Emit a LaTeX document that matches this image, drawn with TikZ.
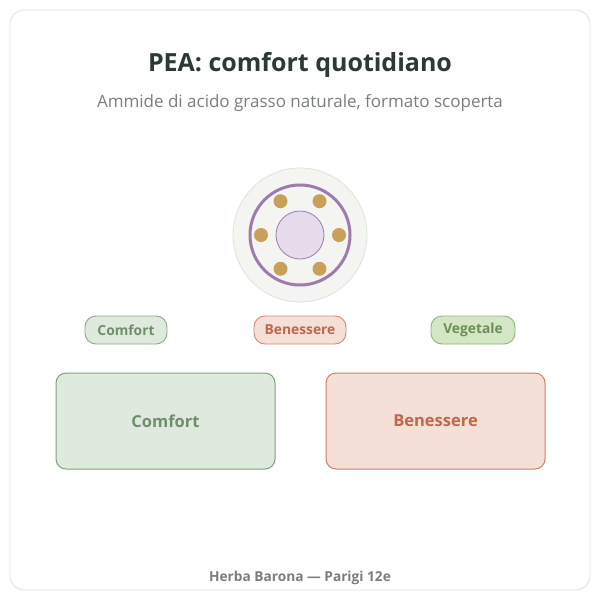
\documentclass[tikz,border=0pt]{standalone}
\usepackage{fontspec}
\setmainfont{Open Sans}
\definecolor{titlec}{HTML}{2D3A33}
\definecolor{subc}{HTML}{7A7F7C}
\definecolor{ring}{HTML}{9B7BB0}
\definecolor{dot}{HTML}{C9A05A}
\begin{document}
\begin{tikzpicture}[x=1pt,y=-1pt,
  pill/.style={draw,line width=0.9pt,rounded corners=11pt,minimum height=28pt,inner sep=0pt,font=\bfseries\fontsize{13.8}{16}\selectfont},
  box/.style={draw,line width=1pt,rounded corners=10pt,minimum width=219pt,minimum height=96pt,font=\bfseries\fontsize{16.5}{19}\selectfont}]
\useasboundingbox (0,0) rectangle (600,600);
\fill[white] (0,0) rectangle (600,600);
\draw[black!12,rounded corners=14pt,line width=0.8pt] (10,10) rectangle (590,590);
\node[font=\bfseries\fontsize{25}{29}\selectfont,text=titlec] (t) at (300,65) {PEA: comfort quotidiano};
\node[font=\fontsize{17}{20}\selectfont,text=subc] (s) at (300,103) {Ammide di acido grasso naturale, formato scoperta};
\node[circle,minimum size=134pt,fill={rgb,255:red,244;green,245;blue,241},draw={rgb,255:red,222;green,226;blue,219},line width=0.8pt] (c) at (300,235) {};
\draw[ring,line width=3pt] (c.center) circle (50);
\node[circle,minimum size=48pt,fill={rgb,255:red,230;green,220;blue,236},draw=ring,line width=0.8pt] (in) at (c.center) {};
\foreach \a in {0,60,...,300}{\fill[dot] (c.center) ++(\a:39) circle (7);}
\node[pill,minimum width=82pt,fill={rgb,255:red,223;green,234;blue,223},draw={rgb,255:red,138;green,170;blue,136},text={rgb,255:red,111;green,143;blue,108}] (p1) at (126,330) {Comfort};
\node[pill,minimum width=92pt,fill={rgb,255:red,245;green,224;blue,216},draw={rgb,255:red,208;green,138;blue,112},text={rgb,255:red,192;green,103;blue,76}] (p2) at (300,330) {Benessere};
\node[pill,minimum width=84pt,fill={rgb,255:red,213;green,230;blue,198},draw={rgb,255:red,143;green,181;blue,122},text={rgb,255:red,107;green,143;blue,85}] (p3) at (473,330) {Vegetale};
\node[box,fill={rgb,255:red,223;green,234;blue,223},draw={rgb,255:red,128;green,160;blue,124},text={rgb,255:red,111;green,143;blue,108}] (b1) at (165.5,421) {Comfort};
\node[box,fill={rgb,255:red,245;green,224;blue,216},draw={rgb,255:red,208;green,128;blue,100},text={rgb,255:red,192;green,103;blue,76}] (b2) at (435.5,421) {Benessere};
\node[font=\bfseries\fontsize{13.7}{16}\selectfont,text=subc] (f) at (300,578) {Herba Barona — Parigi 12e};
\end{tikzpicture}
\end{document}
